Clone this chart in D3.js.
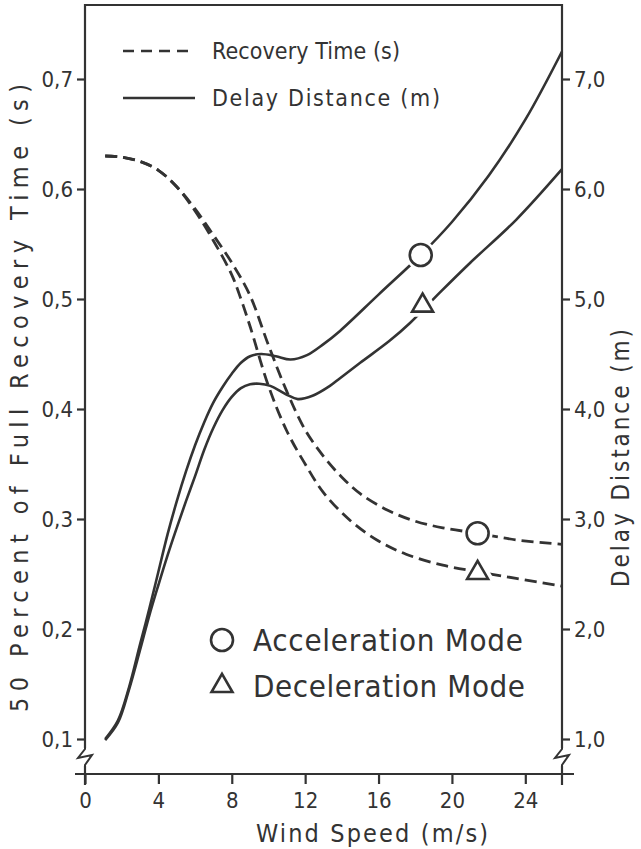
<!DOCTYPE html>
<html>
<head>
<meta charset="utf-8">
<script src="https://cdn.jsdelivr.net/npm/d3@7"></script>
<style>
  body { margin: 0; background: #fff; }
  svg text { font-family: "DejaVu Sans Condensed", "DejaVu Sans", sans-serif; font-stretch: condensed; fill: #333; }
</style>
</head>
<body>
<svg id="chart" width="641" height="849"></svg>
<script>
// wind speed ticks and the two y axes
var windTicks = [0, 4, 8, 12, 16, 20, 24]
var timeTicks = [0.1, 0.2, 0.3, 0.4, 0.5, 0.6, 0.7]
var distTicks = [1, 2, 3, 4, 5, 6, 7]

// recovery time (s), dashed
var timeAcc = [[1.1,0.63],[2,0.629],[3,0.625],[4,0.617],[5,0.602],[6,0.582],[7,0.558],[8,0.533],[9,0.503],[10,0.458],[11,0.416],[12,0.381],[13,0.357],[14,0.338],[15,0.323],[16.5,0.308],[18,0.298],[19.5,0.292],[21.4,0.287],[23.5,0.281],[26,0.277]]
var timeDec = [[1.1,0.63],[2,0.629],[3,0.625],[4,0.617],[5,0.602],[6,0.58],[7,0.553],[8,0.522],[8.5,0.5],[9,0.475],[10,0.421],[11,0.38],[12,0.35],[13,0.324],[14.5,0.298],[16,0.28],[17.5,0.268],[19.5,0.258],[21.4,0.252],[23.5,0.246],[26,0.239]]

// delay distance (m), solid
var distAcc = [[1.1,1.0],[1.8,1.17],[2.4,1.47],[3,1.86],[3.5,2.18],[4,2.52],[4.5,2.86],[5,3.16],[5.5,3.43],[6,3.67],[6.5,3.88],[7,4.06],[7.5,4.2],[8,4.32],[8.5,4.42],[9,4.48],[9.6,4.5],[10.4,4.48],[11.2,4.45],[12.1,4.49],[13,4.59],[13.9,4.71],[16,5.04],[18.3,5.4],[20,5.7],[22,6.12],[24,6.63],[26,7.25]]
var distDec = [[1.1,0.99],[1.8,1.15],[2.4,1.45],[3,1.81],[3.5,2.12],[4,2.4],[4.5,2.67],[5,2.92],[5.5,3.16],[6,3.39],[6.5,3.63],[7,3.83],[7.5,3.99],[8,4.11],[8.5,4.19],[9,4.225],[9.5,4.23],[10.1,4.21],[11,4.13],[11.6,4.09],[12.4,4.12],[13.35,4.21],[13.9,4.28],[15,4.42],[16.6,4.62],[17.7,4.78],[19.35,5.06],[21,5.33],[23.5,5.72],[26,6.18]]

// marked points
var circleTime = [[21.4, 0.287]]
var circleDist = [[18.3, 5.4]]
var triTime = [[21.4, 0.251]]
var triDist = [[18.4, 4.94]]

var ink = "#333"
var svg = d3.select("#chart")

var x = d3.scaleLinear().domain([0, 26]).range([85, 562])
var yT = d3.scaleLinear().domain([0.1, 0.7]).range([739, 79])
var yD = d3.scaleLinear().domain([1, 7]).range([739, 79])
var fmt = d => d3.format(".1f")(d).replace(".", ",")

var frameTop = 5, base = 774

// frame
svg.append("path")
    .attr("d", `M${x(0)},${base + 11}V${frameTop}H${x(26)}V${base + 11}`)
    .attr("fill", "none").attr("stroke", ink).attr("stroke-width", 2.2)

// axis breaks
function brk(px) {
    svg.append("rect").attr("x", px - 3).attr("y", 748).attr("width", 6).attr("height", 18).attr("fill", "#fff")
    svg.append("path")
        .attr("d", `M${px},745L${px},749L${px - 7},758L${px + 7},755L${px},765L${px},768`)
        .attr("fill", "none").attr("stroke", ink).attr("stroke-width", 2)
}
brk(x(0)); brk(x(26))

// x axis
var xAxis = g => g
    .attr("transform", `translate(0,${base})`)
    .call(d3.axisBottom(x).tickValues(windTicks).tickSize(10).tickPadding(8).tickFormat(d3.format("d")))
    .call(g => g.select(".domain").attr("d", `M${x(0) - 10},0H${x(26) + 12}`))
svg.append("g").call(xAxis)

var yLeft = g => g
    .attr("transform", `translate(${x(0)},0)`)
    .call(d3.axisLeft(yT).tickValues(timeTicks).tickSize(8).tickPadding(4).tickFormat(fmt))
    .call(g => g.select(".domain").remove())
svg.append("g").call(yLeft)

var yRight = g => g
    .attr("transform", `translate(${x(26)},0)`)
    .call(d3.axisRight(yD).tickValues(distTicks).tickSize(8).tickPadding(4).tickFormat(fmt))
    .call(g => g.select(".domain").remove())
svg.append("g").call(yRight)

svg.selectAll(".tick line").attr("stroke", ink).attr("stroke-width", 2.2)
svg.selectAll(".domain").attr("stroke", ink).attr("stroke-width", 2.2)
svg.selectAll(".tick text").attr("font-size", 22).attr("fill", ink)
    .style("font-family", '"DejaVu Sans Condensed", "DejaVu Sans", sans-serif')

// curves
var lineT = d3.line().x(d => x(d[0])).y(d => yT(d[1])).curve(d3.curveCatmullRom)
var lineD = d3.line().x(d => x(d[0])).y(d => yD(d[1])).curve(d3.curveCatmullRom)

svg.append("g")
    .attr("fill", "none").attr("stroke", ink).attr("stroke-width", 2.8)
    .attr("stroke-dasharray", "12,6")
    .selectAll("path").data([timeAcc, timeDec]).join("path")
    .attr("d", d => lineT(d))

svg.append("g")
    .attr("fill", "none").attr("stroke", ink).attr("stroke-width", 2.6)
    .selectAll("path").data([distAcc, distDec]).join("path")
    .attr("d", d => lineD(d))

// markers
var circles = circleTime.map(d => [x(d[0]), yT(d[1])]).concat(circleDist.map(d => [x(d[0]), yD(d[1])]))
var tris = triTime.map(d => [x(d[0]), yT(d[1])]).concat(triDist.map(d => [x(d[0]), yD(d[1])]))
var triPath = d3.symbol().type(d3.symbolTriangle).size(190)

svg.selectAll(".halo-c").data(circles).join("circle")
    .attr("cx", d => d[0]).attr("cy", d => d[1]).attr("r", 11)
    .attr("fill", "#fff").attr("stroke", "#fff").attr("stroke-width", 8)
svg.selectAll(".halo-t").data(tris).join("path")
    .attr("transform", d => `translate(${d[0]},${d[1]})`).attr("d", triPath)
    .attr("fill", "#fff").attr("stroke", "#fff").attr("stroke-width", 10)
svg.selectAll(".mk-c").data(circles).join("circle")
    .attr("cx", d => d[0]).attr("cy", d => d[1]).attr("r", 11)
    .attr("fill", "#fff").attr("stroke", ink).attr("stroke-width", 2.6)
svg.selectAll(".mk-t").data(tris).join("path")
    .attr("transform", d => `translate(${d[0]},${d[1]})`).attr("d", triPath)
    .attr("fill", "#fff").attr("stroke", ink).attr("stroke-width", 2.6)

// line legend
var lg = svg.append("g")
lg.append("line").attr("x1", 123).attr("x2", 195).attr("y1", 51).attr("y2", 51)
    .attr("stroke", ink).attr("stroke-width", 2.6).attr("stroke-dasharray", "11,7")
lg.append("line").attr("x1", 123).attr("x2", 195).attr("y1", 98).attr("y2", 98)
    .attr("stroke", ink).attr("stroke-width", 2.6)
lg.append("text").attr("x", 212).attr("y", 59).attr("font-size", 23)
    .attr("textLength", 188).text("Recovery Time (s)")
lg.append("text").attr("x", 212).attr("y", 106).attr("font-size", 23)
    .attr("textLength", 228).text("Delay Distance (m)")

// marker legend
var ml = svg.append("g")
ml.append("circle").attr("cx", 222).attr("cy", 640).attr("r", 11)
    .attr("fill", "none").attr("stroke", ink).attr("stroke-width", 2.6)
ml.append("path").attr("transform", "translate(222,686)").attr("d", triPath)
    .attr("fill", "none").attr("stroke", ink).attr("stroke-width", 2.6)
ml.append("text").attr("x", 253).attr("y", 651).attr("font-size", 31)
    .attr("textLength", 270).text("Acceleration Mode")
ml.append("text").attr("x", 253).attr("y", 697).attr("font-size", 31)
    .attr("textLength", 272).text("Deceleration Mode")

// axis titles
svg.append("text").attr("text-anchor", "middle").attr("x", 372).attr("y", 842)
    .attr("font-size", 25).attr("textLength", 232).text("Wind Speed (m/s)")
svg.append("text").attr("text-anchor", "middle")
    .attr("transform", "translate(28,398) rotate(-90)")
    .attr("font-size", 25).attr("textLength", 628).text("50 Percent of Full Recovery Time (s)")
svg.append("text").attr("text-anchor", "middle")
    .attr("transform", "translate(629,458) rotate(-90)")
    .attr("font-size", 24).attr("textLength", 258).text("Delay Distance (m)")
</script>
</body>
</html>
